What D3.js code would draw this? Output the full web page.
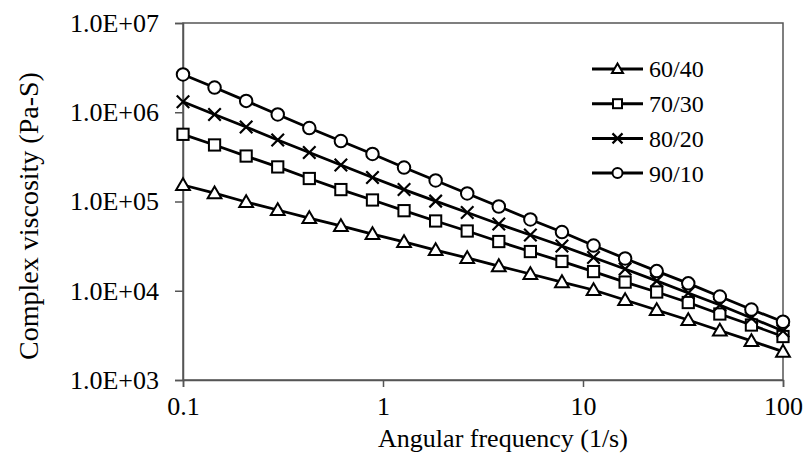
<!DOCTYPE html>
<html><head><meta charset="utf-8">
<script src="https://cdn.jsdelivr.net/npm/d3@7"></script>
<style>body{margin:0;background:#fff}svg{display:block}text{font-family:"Liberation Serif","Times New Roman",serif;fill:#000}</style>
</head><body>
<svg id="c" width="806" height="459"></svg>
<script>
const frequency = [0.1, 0.1438, 0.2069, 0.2976, 0.4281, 0.6158, 0.8859, 1.274, 1.833, 2.637, 3.793, 5.456, 7.848, 11.29, 16.24, 23.36, 33.6, 48.33, 69.52, 100];
const series6040 = [1.53e5, 1.24e5, 9.87e4, 8.03e4, 6.53e4, 5.32e4, 4.32e4, 3.52e4, 2.86e4, 2.33e4, 1.89e4, 1.54e4, 1.25e4, 1.02e4, 7.88e3, 6.08e3, 4.70e3, 3.59e3, 2.74e3, 2.08e3];
const series7030 = [5.66e5, 4.30e5, 3.23e5, 2.44e5, 1.81e5, 1.36e5, 1.04e5, 7.89e4, 6.05e4, 4.67e4, 3.56e4, 2.75e4, 2.13e4, 1.64e4, 1.25e4, 9.68e3, 7.38e3, 5.49e3, 4.13e3, 3.07e3];
const series8020 = [1.31e6, 9.44e5, 6.83e5, 4.89e5, 3.54e5, 2.56e5, 1.86e5, 1.36e5, 1.01e5, 7.53e4, 5.60e4, 4.21e4, 3.17e4, 2.36e4, 1.75e4, 1.29e4, 9.44e3, 6.92e3, 4.95e3, 3.54e3];
const series9010 = [2.65e6, 1.89e6, 1.34e6, 9.44e5, 6.66e5, 4.76e5, 3.41e5, 2.40e5, 1.72e5, 1.23e5, 8.79e4, 6.29e4, 4.55e4, 3.21e4, 2.30e4, 1.66e4, 1.21e4, 8.62e3, 6.16e3, 4.50e3];
const seriesNames = ["60/40", "70/30", "80/20", "90/10"];
const seriesMarkers = ["triangle", "square", "cross", "circle"];
const xTickValues = [0.1, 1, 10, 100];
const xTickLabels = ["0.1", "1", "10", "100"];
const yTickValues = [1e3, 1e4, 1e5, 1e6, 1e7];
const yTickLabels = ["1.0E+03", "1.0E+04", "1.0E+05", "1.0E+06", "1.0E+07"];
const xTitle = "Angular frequency (1/s)";
const yTitle = "Complex viscosity (Pa-S)";

const allSeries = [series6040, series7030, series8020, series9010];
const W = 806, H = 459;
const m = {l:183, t:23, r:23, b:79};
const svg = d3.select("#c");
const x = d3.scaleLog().domain([0.1, 100]).range([m.l, W - m.r]);
const y = d3.scaleLog().domain([1e3, 1e7]).range([H - m.b, m.t]);
const axisColor = "#555";

svg.append("rect").attr("x", m.l).attr("y", m.t).attr("width", W - m.l - m.r).attr("height", H - m.t - m.b)
  .attr("fill", "none").attr("stroke", axisColor).attr("stroke-width", 1.5);

const xAxis = svg.append("g").attr("transform", `translate(0,${H - m.b})`)
  .call(d3.axisBottom(x).tickValues(xTickValues).tickFormat((d,i) => xTickLabels[i]).tickSize(7).tickPadding(10));
const yAxis = svg.append("g").attr("transform", `translate(${m.l},0)`)
  .call(d3.axisLeft(y).tickValues(yTickValues).tickFormat((d,i) => yTickLabels[i]).tickSize(8).tickPadding(16));
[xAxis, yAxis].forEach(a => {
  a.select(".domain").attr("stroke", axisColor).attr("stroke-width", 1.5);
  a.selectAll(".tick line").attr("stroke", axisColor).attr("stroke-width", 1.5);
  a.selectAll(".tick text").attr("font-size", 26).attr("font-family", "Liberation Serif").attr("fill", "#000");
});

svg.append("text").attr("x", 503).attr("y", 447).attr("text-anchor", "middle").attr("font-size", 26).text(xTitle);
svg.append("text").attr("transform", "translate(38,216) rotate(-90)").attr("text-anchor", "middle").attr("font-size", 28).text(yTitle);

function drawMarker(g, type, s) {
  if (type === "circle") {
    g.append("circle").attr("r", s * 0.5).attr("fill", "#fff").attr("stroke", "#000").attr("stroke-width", 2);
  } else if (type === "square") {
    g.append("rect").attr("x", -s*0.45).attr("y", -s*0.45).attr("width", s*0.9).attr("height", s*0.9)
      .attr("fill", "#fff").attr("stroke", "#000").attr("stroke-width", 2);
  } else if (type === "triangle") {
    const h = s * 0.9;
    g.append("path").attr("d", `M0,${-h*0.6}L${s*0.55},${h*0.45}L${-s*0.55},${h*0.45}Z`)
      .attr("fill", "#fff").attr("stroke", "#000").attr("stroke-width", 2);
  } else if (type === "cross") {
    const a = s * 0.5;
    g.append("path").attr("d", `M${-a},${-a}L${a},${a}M${-a},${a}L${a},${-a}`)
      .attr("stroke", "#000").attr("stroke-width", 2.2);
  }
}

const line = d3.line().x(d => x(d[0])).y(d => y(d[1]));
allSeries.forEach((vals, si) => {
  const pts = frequency.map((f, i) => [f, vals[i]]);
  svg.append("path").datum(pts).attr("d", line).attr("fill", "none").attr("stroke", "#000").attr("stroke-width", 2.8);
});
allSeries.forEach((vals, si) => {
  frequency.forEach((f, i) => {
    const g = svg.append("g").attr("transform", `translate(${x(f)},${y(vals[i])})`);
    drawMarker(g, seriesMarkers[si], 12.5);
  });
});

const legY0 = 69, legDY = 34.7;
seriesNames.forEach((name, i) => {
  const gy = legY0 + i * legDY;
  svg.append("line").attr("x1", 592).attr("x2", 643).attr("y1", gy).attr("y2", gy).attr("stroke", "#000").attr("stroke-width", 3);
  const g = svg.append("g").attr("transform", `translate(617.5,${gy})`);
  drawMarker(g, seriesMarkers[i], 10);
  svg.append("text").attr("x", 649).attr("y", gy).attr("dy", "0.35em").attr("font-size", 24).text(name);
});
</script>
</body></html>
